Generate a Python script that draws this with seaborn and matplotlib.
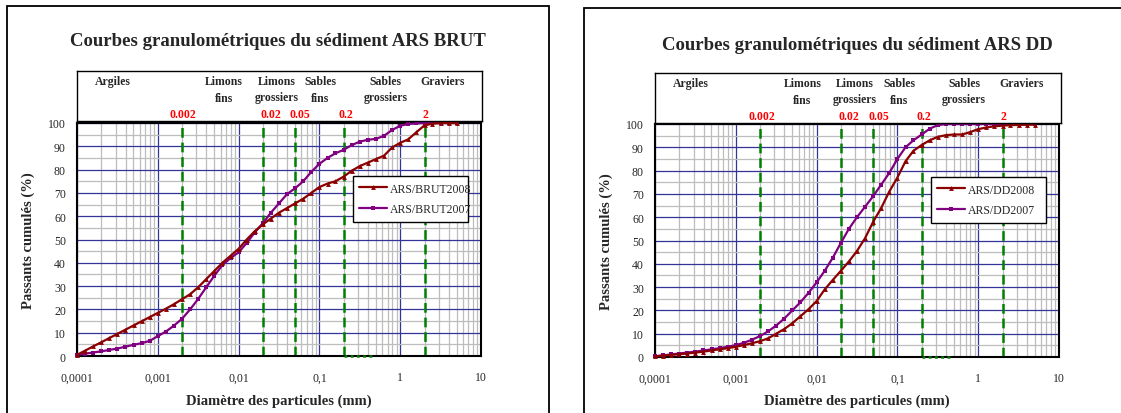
import numpy as np
import pandas as pd
import matplotlib
matplotlib.use("Agg")
import matplotlib.pyplot as plt
from matplotlib.patches import Rectangle
from matplotlib.ticker import FixedLocator, NullFormatter
import seaborn as sns

# ---------------- data ----------------
diam = [0.0001, 0.000126, 0.000158, 0.0002, 0.000251, 0.000316, 0.000398, 0.000501,
        0.000631, 0.000794, 0.001, 0.00126, 0.00158, 0.002, 0.00251, 0.00316,
        0.00398, 0.00501, 0.00631, 0.00794, 0.01, 0.0126, 0.0158, 0.02, 0.0251,
        0.0316, 0.0398, 0.0501, 0.0631, 0.0794, 0.1, 0.126, 0.158, 0.2, 0.251,
        0.316, 0.398, 0.501, 0.631, 0.794, 1.0, 1.26, 1.58, 2.0, 2.51, 3.16, 3.98, 5.01]

brut2008 = [0.5, 2.3, 4.1, 5.9, 7.7, 9.5, 11.3, 13.1, 14.9, 16.7, 18.5, 20.3, 22.2, 24.4,
            26.5, 29.5, 33.0, 36.5, 40.0, 43.0, 46.0, 50.0, 53.5, 56.5, 59.0, 61.5, 63.5,
            65.5, 67.5, 70.0, 72.5, 74.0, 75.0, 77.0, 79.5, 81.5, 83.0, 84.5, 86.0, 89.5,
            91.5, 93.0, 96.0, 99.0, 99.7, 100.0, 100.0, 100.0]
brut2007 = [0.5, 1.0, 1.5, 2.0, 2.6, 3.2, 4.0, 4.8, 5.5, 6.5, 8.5, 10.5, 13.0, 16.0,
            20.0, 24.5, 29.5, 34.5, 39.0, 42.0, 44.5, 48.5, 53.0, 57.0, 61.5, 65.5, 69.5,
            72.0, 75.0, 79.0, 82.5, 85.0, 87.0, 88.5, 90.5, 92.0, 92.8, 93.2, 94.5, 97.0,
            98.8, 99.6, 99.8, 100.0, 100.0, 100.0, 100.0, 100.0]
dd2008 = [0.3, 0.6, 0.9, 1.2, 1.5, 1.9, 2.3, 2.8, 3.3, 3.8, 4.4, 5.1, 5.9, 6.8, 8.0,
          10.0, 12.0, 14.5, 17.5, 20.5, 24.0, 29.0, 33.0, 37.0, 41.0, 45.5, 51.0, 58.0,
          64.0, 71.0, 77.0, 84.0, 88.5, 91.0, 93.0, 94.5, 95.2, 95.5, 95.5, 96.5, 97.8,
          98.5, 99.0, 99.3, 99.5, 99.6, 99.7, 99.7]
dd2007 = [0.3, 0.7, 1.1, 1.5, 1.9, 2.3, 2.8, 3.3, 3.8, 4.4, 5.1, 6.1, 7.4, 9.0, 11.0,
          13.5, 16.5, 20.0, 23.5, 27.5, 32.0, 37.0, 42.5, 49.0, 55.0, 60.0, 64.5, 69.0,
          74.0, 79.0, 85.0, 90.0, 93.0, 95.5, 98.0, 99.5, 100.0, 100.0, 100.0, 100.0,
          100.0, 100.0, 100.0, 100.0, 100.0, 100.0, 100.0, 100.0]

titles = ["Courbes granulométriques du sédiment ARS BRUT",
          "Courbes granulométriques du sédiment ARS DD"]
series_names = [["ARS/BRUT2008", "ARS/BRUT2007"], ["ARS/DD2008", "ARS/DD2007"]]
series_vals = [[brut2008, brut2007], [dd2008, dd2007]]

limits = [0.002, 0.02, 0.05, 0.2, 2]
limit_labels = ["0.002", "0.02", "0.05", "0.2", "2"]
limit_label_pos = [0.00205, 0.0246, 0.0567, 0.207, 1.98]
class_line1 = ["Argiles", "Limons", "Limons", "Sables", "Sables", "Graviers"]
class_line2 = ["", "fins", "grossiers", "fins", "grossiers", ""]
class_pos = [0.000277, 0.00656, 0.0292, 0.1014, 0.64, 3.29]
xtick_vals = [0.0001, 0.001, 0.01, 0.1, 1, 10]
xtick_labels = ["0,0001", "0,001", "0,01", "0,1", "1", "10"]
ytick_vals = [0, 10, 20, 30, 40, 50, 60, 70, 80, 90, 100]
bottom_seg = [0.2, 0.45]

# ---------------- style ----------------
sns.set_style("white")
plt.rcParams['font.family'] = ['Liberation Serif', 'DejaVu Serif']
plt.rcParams['lines.scale_dashes'] = False

W, H = 1121, 414
fig = plt.figure(figsize=(W / 100, H / 100), dpi=100)
fig.patch.set_facecolor("white")

def fx(px):
    return px / W

def fy(py):
    return 1 - py / H

panels = [
    dict(plot=(77, 124, 481, 357), head=(77, 72, 482, 122), frame=(7, 7, 549, 430),
         title_xy=(278, 42), ylab_x=28.6, xlab_y=401),
    dict(plot=(655, 125, 1059, 358), head=(655, 74, 1061, 124), frame=(584, 9, 1140, 430),
         title_xy=(857, 45), ylab_x=606.5, xlab_y=401),
]

red = "#8B0000"
purple = "#800080"
navy = "#33339a"
grey = "#bdbdbd"
green = "#008000"

for i, p in enumerate(panels):
    # outer frame
    x0, y0, x1, y1 = p["frame"]
    fig.patches.append(Rectangle((fx(x0), fy(y1)), fx(x1 - x0), (y1 - y0) / H,
                                 transform=fig.transFigure, fill=False,
                                 edgecolor="black", linewidth=1.3, zorder=0))
    # title
    fig.text(fx(p["title_xy"][0]), fy(p["title_xy"][1]), titles[i], ha="center",
             va="center", fontsize=13.5, fontweight="bold")

    # main axes
    l, t, r, b = p["plot"]
    ax = fig.add_axes([fx(l), fy(b), fx(r - l), (b - t) / H])
    ax.set_xscale("log")
    ax.set_xlim(0.0001, 10)
    ax.set_ylim(0, 100)
    ax.set_axisbelow(True)

    ax.xaxis.set_major_locator(FixedLocator(xtick_vals))
    minors = [m * 10.0 ** e for e in range(-4, 1) for m in range(2, 10)]
    ax.xaxis.set_minor_locator(FixedLocator(minors))
    ax.xaxis.set_minor_formatter(NullFormatter())
    ax.set_xticks(xtick_vals)
    ax.set_xticklabels(xtick_labels)
    ax.set_yticks(ytick_vals)
    ax.set_yticks([v + 5 for v in ytick_vals[:-1]], minor=True)
    ax.grid(which="minor", color=grey, linewidth=0.9)
    ax.grid(which="major", color=navy, linewidth=0.9)
    ax.tick_params(axis="both", which="both", length=0, labelsize=8.5)
    ax.tick_params(axis="x", pad=11)
    ax.tick_params(axis="y", pad=8)
    for s in ax.spines.values():
        s.set_color("black")
        s.set_linewidth(1.5)

    for xv in limits:
        ax.axvline(xv, color=green, linewidth=1.8, dashes=(7, 3.5), zorder=2)
    ax.plot(bottom_seg, [0, 0], color=green, linewidth=1.8, dashes=(2, 2.5),
            zorder=5, clip_on=False)

    df = pd.DataFrame({
        "diam": diam * 2,
        "val": series_vals[i][0] + series_vals[i][1],
        "serie": [series_names[i][0]] * len(diam) + [series_names[i][1]] * len(diam),
    })
    sns.lineplot(data=df[df.serie == series_names[i][0]], x="diam", y="val", ax=ax,
                 color=red, marker="^", markersize=3.5, markeredgewidth=0,
                 linewidth=1.6, label=series_names[i][0], zorder=4, clip_on=False)
    sns.lineplot(data=df[df.serie == series_names[i][1]], x="diam", y="val", ax=ax,
                 color=purple, marker="s", markersize=3, markeredgewidth=0,
                 linewidth=1.6, label=series_names[i][1], zorder=3, clip_on=False)

    ax.set_xlabel("Diamètre des particules (mm)", fontsize=10.5, fontweight="bold",
                  va="center")
    ax.set_ylabel("Passants cumulés (%)", fontsize=10.5, fontweight="bold",
                  va="center")
    ax.xaxis.set_label_coords(0.5, (b - p["xlab_y"]) / (b - t))
    ax.yaxis.set_label_coords((p["ylab_x"] - l) / (r - l), 0.5)

    leg = ax.legend(loc="upper left", bbox_to_anchor=(0.683, 0.592, 0.285, 0.18),
                    mode="expand", frameon=True, fancybox=False, fontsize=8.5,
                    handlelength=2.3, handletextpad=0.25, borderpad=0.55,
                    labelspacing=0.75, borderaxespad=0)
    leg.get_frame().set_edgecolor("black")
    leg.get_frame().set_linewidth(1.0)
    leg.get_frame().set_alpha(1)

    # header box
    hl, ht, hr, hb = p["head"]
    hx = fig.add_axes([fx(hl), fy(hb), fx(hr - hl), (hb - ht) / H])
    hx.set_xscale("log")
    hx.set_xlim(0.0001, 10)
    hx.set_ylim(0, 1)
    hx.set_xticks([])
    hx.set_yticks([])
    hx.minorticks_off()
    for s in hx.spines.values():
        s.set_color("black")
        s.set_linewidth(1.0)
    trans = hx.get_xaxis_transform()
    for xp, t1, t2 in zip(class_pos, class_line1, class_line2):
        hx.text(xp, 0.80, t1, transform=trans, ha="center", va="center",
                fontsize=8.5, fontweight="bold")
        if t2:
            hx.text(xp, 0.47, t2, transform=trans, ha="center", va="center",
                    fontsize=8.5, fontweight="bold")
    for xp, lab in zip(limit_label_pos, limit_labels):
        hx.text(xp, 0.15, lab, transform=trans, ha="center", va="center",
                fontsize=8.5, fontweight="bold", color="red")

fig.savefig("out.png", dpi=100, facecolor="white")
